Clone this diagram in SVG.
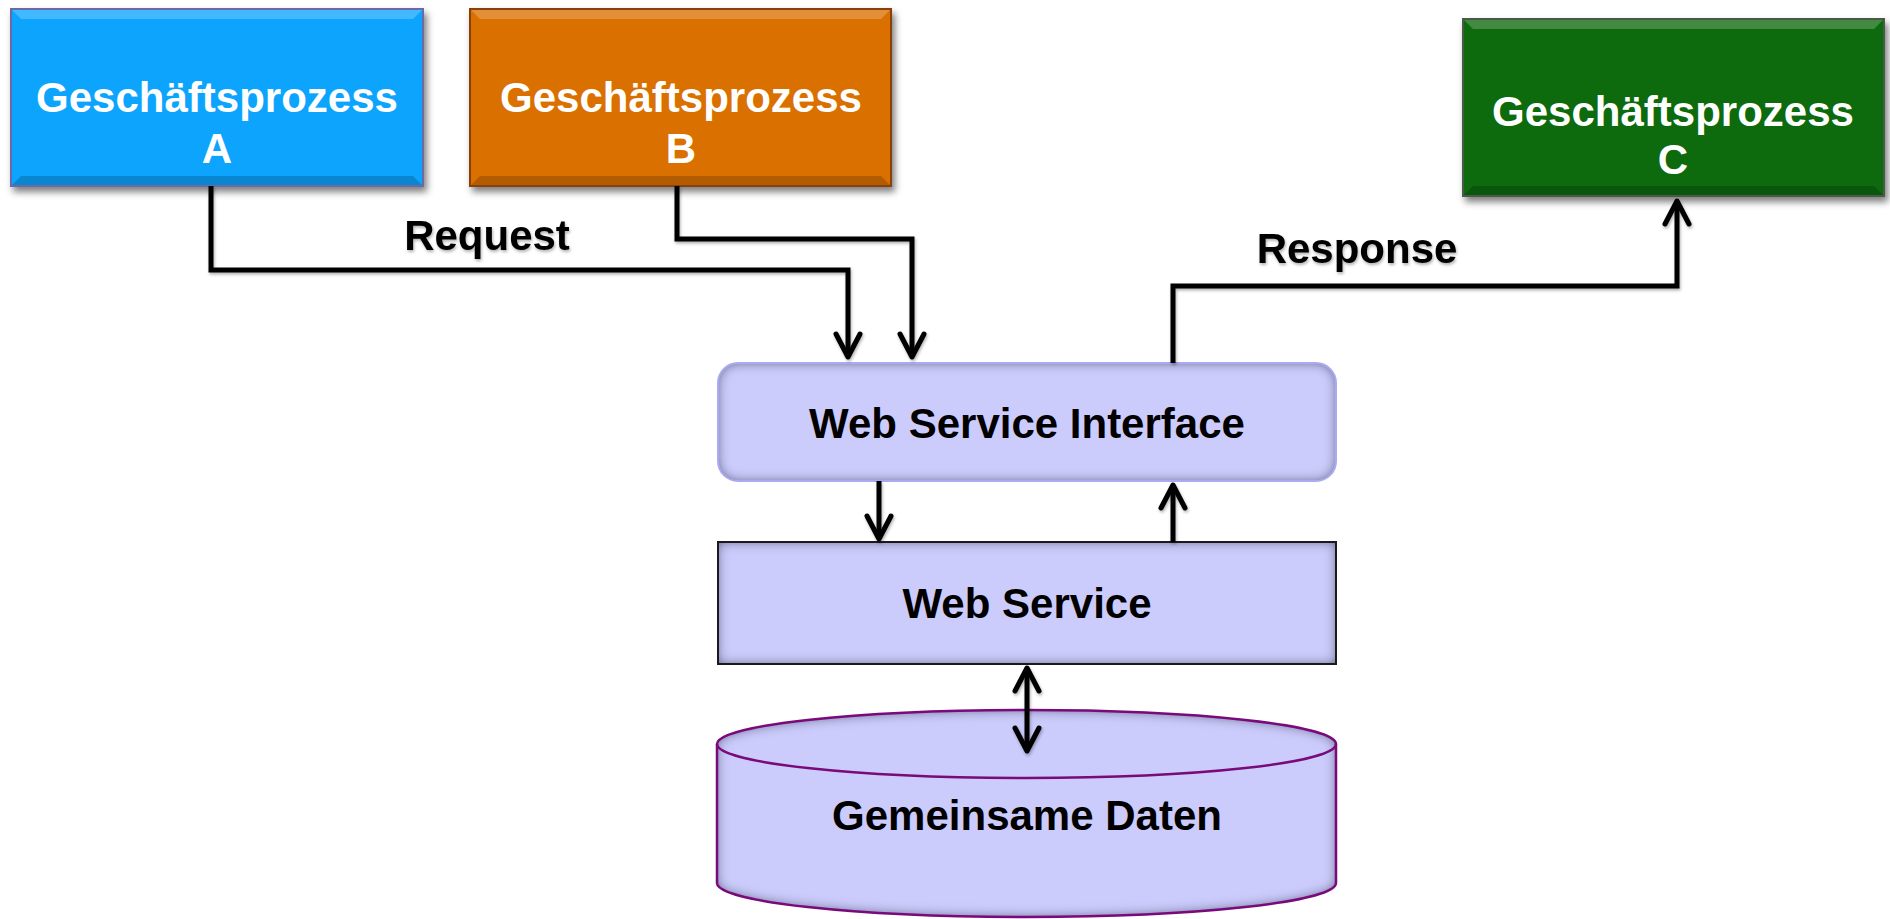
<svg xmlns="http://www.w3.org/2000/svg" width="1890" height="919" viewBox="0 0 1890 919">
  <defs>
    <style>
      .lbl { font-family: "Liberation Sans", Arial, sans-serif; font-weight: bold; font-size: 42px; text-anchor: middle; }
      .white { fill: #ffffff; }
      .dark { fill: #000000; }
      .conn { fill: none; stroke: #000000; stroke-width: 5; stroke-linejoin: miter; }
      .hi { fill: #ffffff; opacity: 0.22; }
      .lo { fill: #000000; opacity: 0.18; }
    </style>
    <!-- open chevron arrowhead, tip at the path end -->
    <marker id="arr" markerUnits="userSpaceOnUse" markerWidth="40" markerHeight="40" viewBox="-30 -20 40 40" refX="0" refY="0" orient="auto-start-reverse">
      <path d="M-23,-12 L0,0 L-23,12" fill="none" stroke="#000" stroke-width="5" stroke-linejoin="round" stroke-linecap="round"/>
    </marker>
    <filter id="drop" x="-10%" y="-10%" width="125%" height="130%">
      <feDropShadow dx="3" dy="5" stdDeviation="3.5" flood-color="#000" flood-opacity="0.5"/>
    </filter>
    <filter id="lineShadow" x="-5%" y="-5%" width="110%" height="115%">
      <feDropShadow dx="1" dy="2" stdDeviation="1.5" flood-color="#000" flood-opacity="0.3"/>
    </filter>
    <!-- soft darkening along the inside of a shape -->
    <filter id="inset" x="-10%" y="-20%" width="120%" height="140%">
      <feFlood flood-color="#2e2e58" flood-opacity="1" result="c"/>
      <feComposite in="c" in2="SourceAlpha" operator="out" result="outside"/>
      <feGaussianBlur in="outside" stdDeviation="6" result="blur"/>
      <feComposite in="blur" in2="SourceAlpha" operator="in" result="shadow"/>
      <feMerge><feMergeNode in="SourceGraphic"/><feMergeNode in="shadow"/></feMerge>
    </filter>
  </defs>

  <!-- Geschäftsprozess A -->
  <g id="proc-a">
    <g filter="url(#drop)">
      <rect x="11" y="9" width="412" height="177" fill="#08a4fe" stroke="#6a6aa8" stroke-width="2"/>
    </g>
    <polygon class="hi" points="12,10 422,10 413,19 21,19"/>
    <polygon class="lo" points="12,185 422,185 413,176 21,176"/>
    <text class="lbl white" x="217" y="112">Geschäftsprozess</text>
    <text class="lbl white" x="217" y="163">A</text>
  </g>

  <!-- Geschäftsprozess B -->
  <g id="proc-b">
    <g filter="url(#drop)">
      <rect x="470" y="9" width="421" height="177" fill="#da7005" stroke="#8a3f10" stroke-width="2"/>
    </g>
    <polygon class="hi" points="471,10 890,10 881,19 480,19"/>
    <polygon class="lo" points="471,185 890,185 881,176 480,176"/>
    <text class="lbl white" x="681" y="112">Geschäftsprozess</text>
    <text class="lbl white" x="681" y="163">B</text>
  </g>

  <!-- Geschäftsprozess C -->
  <g id="proc-c">
    <g filter="url(#drop)">
      <rect x="1463" y="19" width="421" height="177" fill="#086a08" stroke="#4a5a4a" stroke-width="2"/>
    </g>
    <polygon class="hi" points="1464,20 1883,20 1874,29 1473,29"/>
    <polygon class="lo" points="1464,195 1883,195 1874,186 1473,186"/>
    <text class="lbl white" x="1673" y="126">Geschäftsprozess</text>
    <text class="lbl white" x="1673" y="174">C</text>
  </g>

  <!-- Web Service Interface -->
  <g id="ws-interface">
    <rect x="718" y="363" width="618" height="118" rx="20" ry="20" fill="#cbcbfc" filter="url(#inset)"/>
    <rect x="718" y="363" width="618" height="118" rx="20" ry="20" fill="none" stroke="#aaaaf2" stroke-width="2"/>
    <text class="lbl dark" x="1027" y="438">Web Service Interface</text>
  </g>

  <!-- Web Service -->
  <g id="web-service">
    <rect x="718" y="542" width="618" height="122" fill="#cbcbfc" filter="url(#inset)"/>
    <rect x="718" y="542" width="618" height="122" fill="none" stroke="#1a1a1a" stroke-width="2"/>
    <text class="lbl dark" x="1027" y="618">Web Service</text>
  </g>

  <!-- Gemeinsame Daten (cylinder) -->
  <g id="shared-data">
    <path d="M717,744 A309.5,34 0 0 1 1336,744 L1336,883 A309.5,34 0 0 1 717,883 Z" fill="#cbcbfc" filter="url(#inset)"/>
    <path d="M717,744 A309.5,34 0 0 1 1336,744 L1336,883 A309.5,34 0 0 1 717,883 Z" fill="none" stroke="#7a0a7a" stroke-width="2.5"/>
    <path d="M717,744 A309.5,34 0 0 0 1336,744" fill="none" stroke="#7a0a7a" stroke-width="2.5"/>
    <text class="lbl dark" x="1027" y="830">Gemeinsame Daten</text>
  </g>

  <!-- connectors -->
  <g id="connectors" filter="url(#lineShadow)">
    <path class="conn" d="M211,186 V270 H848 V357" marker-end="url(#arr)"/>
    <path class="conn" d="M677,186 V239 H912 V357" marker-end="url(#arr)"/>
    <path class="conn" d="M879,481 V539" marker-end="url(#arr)"/>
    <path class="conn" d="M1173,542 V485" marker-end="url(#arr)"/>
    <path class="conn" d="M1173,363 V286 H1677 V201" marker-end="url(#arr)"/>
    <path class="conn" d="M1027,668 V751" marker-start="url(#arr)" marker-end="url(#arr)"/>
    <text class="lbl dark" x="487" y="250">Request</text>
    <text class="lbl dark" x="1357" y="263">Response</text>
  </g>
</svg>
